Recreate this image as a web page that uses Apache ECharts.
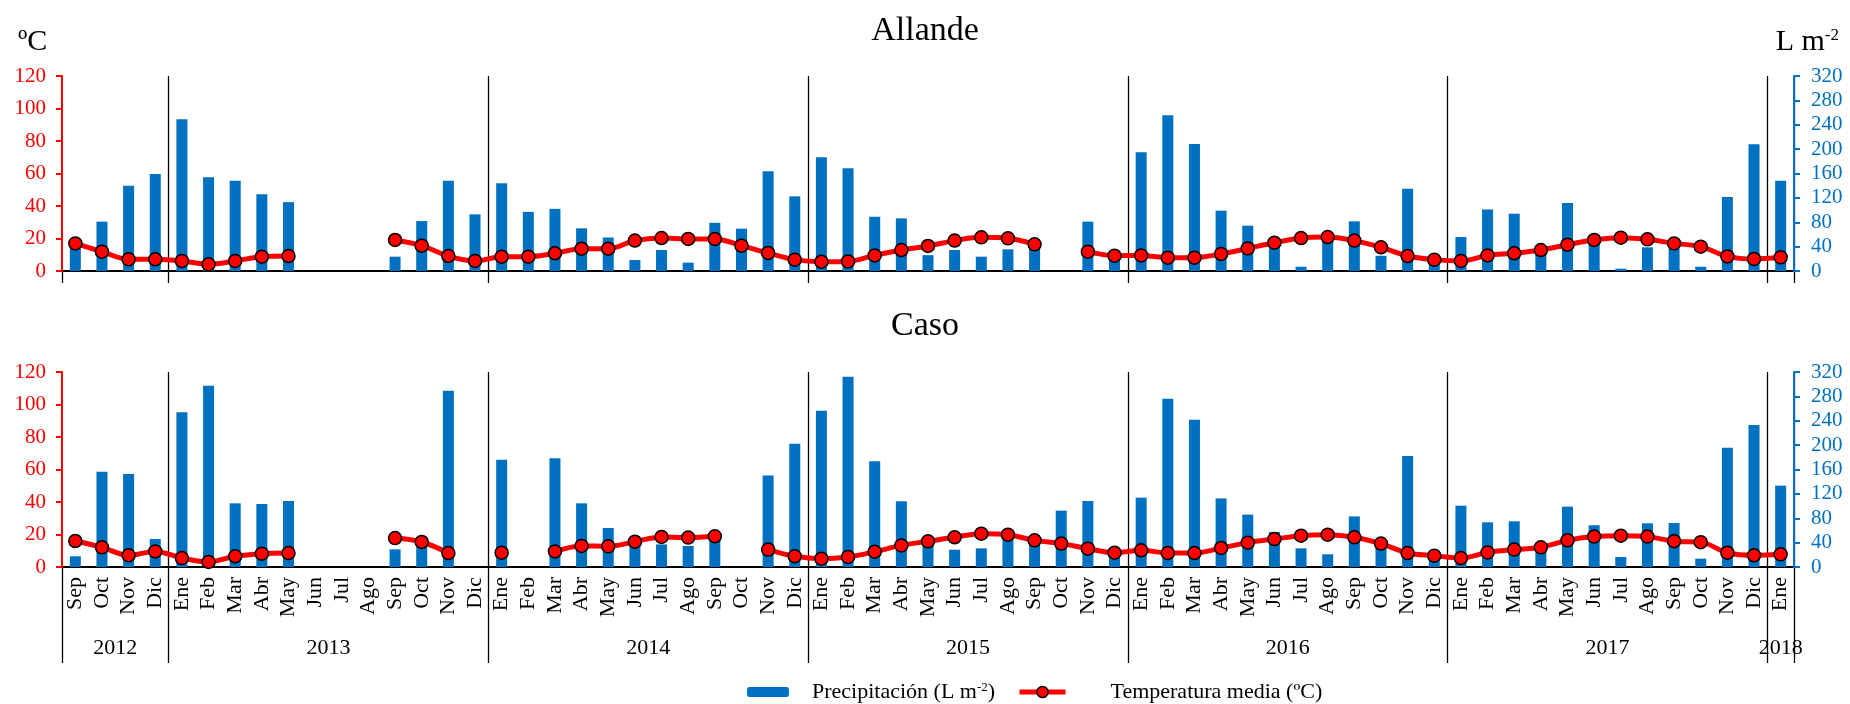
<!DOCTYPE html>
<html>
<head>
<meta charset="utf-8">
<script src="https://cdn.jsdelivr.net/npm/echarts@6/dist/echarts.min.js"></script>
<style>
  html, body { margin: 0; padding: 0; background: #fff; }
  #chart { width: 1850px; height: 704px; }
</style>
</head>
<body>
<div id="chart"></div>
<script>
// Monthly series, Sep 2012 – Ene 2018
const categories = [
  'Sep','Oct','Nov','Dic',
  'Ene','Feb','Mar','Abr','May','Jun','Jul','Ago','Sep','Oct','Nov','Dic',
  'Ene','Feb','Mar','Abr','May','Jun','Jul','Ago','Sep','Oct','Nov','Dic',
  'Ene','Feb','Mar','Abr','May','Jun','Jul','Ago','Sep','Oct','Nov','Dic',
  'Ene','Feb','Mar','Abr','May','Jun','Jul','Ago','Sep','Oct','Nov','Dic',
  'Ene','Feb','Mar','Abr','May','Jun','Jul','Ago','Sep','Oct','Nov','Dic',
  'Ene'
];
const yearLabels = ['2012', '2013', '2014', '2015', '2016', '2017', '2018'];
const tempTicks = [0, 20, 40, 60, 80, 100, 120];
const precipTicks = [0, 40, 80, 120, 160, 200, 240, 280, 320];

// Allande
const allandeTemp = [
  17.0, 11.9, 7.2, 7.2,
  6.2, 4.1, 6.2, 8.8, 9.2, null, null, null, 19.1, 15.6, 9.2, 6.2,
  8.8, 8.8, 10.9, 13.7, 13.7, 18.7, 20.3, 19.7, 19.7, 15.6, 11.1, 7.0,
  5.7, 5.9, 9.6, 12.9, 15.4, 18.7, 20.7, 20.1, 16.4, null, 11.9, 9.4,
  9.6, 8.2, 8.2, 10.5, 13.9, 17.4, 20.3, 20.9, 18.7, 14.6, 9.2, 7.0,
  6.2, 9.6, 10.9, 12.9, 16.2, 19.1, 20.5, 19.5, 17.0, 15.0, 9.0, 7.4,
  8.4
];
const allandePrecip = [
  45, 81, 140, 159,
  249, 154, 148, 126, 113, null, null, null, 23.5, 82, 148, 93,
  144, 97, 102, 70, 55, 18, 34.5, 13.7, 79, 69.5, 163.6, 122.5,
  186.5, 168.5, 89, 86.4, 26, 34.5, 23.5, 35.6, 45, null, 81, 22,
  194.7, 255.5, 208.4, 99, 74.4, 42, 7, 52, 81.5, 25, 135, 20,
  55.8, 101, 94, 35, 111.6, 50, 3.8, 38.8, 37, 7, 121.4, 207.9,
  148
];

// Caso
const casoTemp = [
  16.0, 12.1, 7.2, 9.6,
  5.5, 3.1, 6.6, 8.2, 8.6, null, null, null, 17.8, 15.4, 8.6, null,
  8.8, null, 9.6, 13.0, 12.7, 15.6, 18.5, 18.1, 18.9, null, 10.7, 6.6,
  5.1, 6.2, 9.4, 13.3, 15.8, 18.3, 20.5, 19.9, 16.4, 14.4, 11.3, 8.8,
  10.3, 8.6, 8.6, 11.7, 15.0, 17.2, 19.3, 19.9, 18.3, 14.4, 8.6, 7.0,
  5.5, 9.0, 10.7, 12.1, 16.4, 18.7, 19.3, 18.7, 15.9, 15.3, 8.8, 7.2,
  7.8
];
const casoPrecip = [
  17.5, 156.5, 152.6, 46,
  253.8, 297.6, 104.5, 103.4, 108.3, null, null, null, 29, 42, 289.4, null,
  176, null, 178.5, 104.5, 64, 40, 37, 34.5, 45, null, 150, 202.4,
  256.6, 312.4, 173.4, 107.8, 35, 28.4, 30.6, 53, 45, 92.5, 108.3, 25,
  113.8, 276, 241.8, 112.5, 85.9, 57.4, 30.6, 20.8, 83, 40, 182, 20,
  100.6, 73.3, 75, 35, 99, 68.5, 16.4, 71.7, 72.2, 13.7, 195.8, 233,
  133.5
];

const PRECIP = 'Precipitación (L m-2)';
const TEMP = 'Temperatura media (ºC)';
const FONT = "'Liberation Serif', 'Times New Roman', serif";
const RED = '#FF0000';
const BLUE = '#0070C0';

// A year starts at the first month shown and at every January
const isYearStart = (i) => i === 0 || categories[i] === 'Ene';

// Year captions sit on a half-month grid, centred on each year's span
const yearStarts = categories.map((c, i) => (isYearStart(i) ? i : -1)).filter((i) => i >= 0);
const halfMonthSlots = new Array(categories.length * 2 + 1).fill('');
yearStarts.forEach((s, k) => {
  const e = k + 1 < yearStarts.length ? yearStarts[k + 1] : categories.length;
  halfMonthSlots[s + e] = yearLabels[k];
});

const GRID_LEFT = 62, GRID_RIGHT = 56, PLOT_H = 195;
const grids = [
  { left: GRID_LEFT, right: GRID_RIGHT, top: 76, height: PLOT_H },
  { left: GRID_LEFT, right: GRID_RIGHT, top: 372, height: PLOT_H }
];

function monthAxis(gridIndex, showLabels, tickLen) {
  return {
    type: 'category',
    gridIndex: gridIndex,
    data: categories,
    boundaryGap: true,
    axisLine: { show: true, lineStyle: { color: '#000', width: 2 } },
    axisTick: { show: true, interval: isYearStart, length: tickLen, lineStyle: { color: '#000', width: 1.3 } },
    splitLine: { show: true, interval: (i) => i !== 0 && isYearStart(i), lineStyle: { color: '#000', width: 1.3 } },
    axisLabel: {
      show: showLabels, interval: 0, rotate: 90, margin: 10,
      fontFamily: FONT, fontSize: 22, color: '#000'
    }
  };
}

function valueAxis(gridIndex, side, max, interval, color) {
  return {
    type: 'value',
    gridIndex: gridIndex,
    position: side,
    min: 0, max: max, interval: interval,
    z: 3,
    axisLine: { show: true, lineStyle: { color: color, width: 2 } },
    axisTick: { show: true, length: 6, lineStyle: { color: color, width: 2 } },
    splitLine: { show: false },
    axisLabel: {
      margin: side === 'left' ? 16 : 17,
      fontFamily: FONT, fontSize: 21, color: color,
      formatter: (v) => String(v)
    }
  };
}

function barSeries(xi, yi, data) {
  return {
    name: PRECIP, type: 'bar', xAxisIndex: xi, yAxisIndex: yi,
    data: data, barWidth: 11,
    itemStyle: { color: BLUE }
  };
}

function lineSeries(xi, yi, data) {
  return {
    name: TEMP, type: 'line', xAxisIndex: xi, yAxisIndex: yi,
    data: data, smooth: 0.35, connectNulls: false,
    symbol: 'circle', symbolSize: 13, showAllSymbol: true,
    lineStyle: { color: RED, width: 5 },
    itemStyle: { color: RED, borderColor: '#000', borderWidth: 1.5 },
    z: 4
  };
}

const supStyle = { fontFamily: FONT, fontSize: 13, color: '#000', verticalAlign: 'top' };

const option = {
  animation: false,
  backgroundColor: '#fff',
  textStyle: { fontFamily: FONT },
  title: [
    { text: 'Allande', left: 'center', top: 9, textStyle: { fontFamily: FONT, fontSize: 34, fontWeight: 'normal', color: '#000' } },
    { text: 'Caso', left: 'center', top: 304, textStyle: { fontFamily: FONT, fontSize: 34, fontWeight: 'normal', color: '#000' } },
    { text: 'ºC', left: 13, top: 22, textStyle: { fontFamily: FONT, fontSize: 30, fontWeight: 'normal', color: '#000' } },
    {
      text: 'L m{sup|-2}', right: 6, top: 22,
      textStyle: {
        fontFamily: FONT, fontSize: 30, fontWeight: 'normal', color: '#000',
        rich: { sup: { fontFamily: FONT, fontSize: 17, color: '#000', verticalAlign: 'top' } }
      }
    }
  ],
  legend: [
    {
      data: [PRECIP], left: 742, top: 676,
      itemWidth: 42, itemHeight: 10, itemGap: 0,
      formatter: () => '{gap|}Precipitación (L m{sup|-2})',
      textStyle: {
        fontFamily: FONT, fontSize: 22, color: '#000',
        rich: { gap: { width: 18 }, sup: supStyle }
      }
    },
    {
      data: [TEMP], left: 1012, top: 676,
      itemWidth: 46, itemHeight: 14, itemGap: 0,
      lineStyle: { color: RED, width: 5 },
      itemStyle: { color: RED, borderColor: '#000', borderWidth: 1.5 },
      formatter: (n) => '{gap|}' + n,
      textStyle: {
        fontFamily: FONT, fontSize: 22, color: '#000',
        rich: { gap: { width: 40 } }
      }
    }
  ],
  grid: grids,
  xAxis: [
    monthAxis(0, false, 12),
    monthAxis(1, true, 96),
    {
      type: 'category', gridIndex: 1, data: halfMonthSlots, boundaryGap: false,
      position: 'bottom',
      axisLine: { show: false }, axisTick: { show: false }, splitLine: { show: false },
      axisLabel: { interval: 0, margin: 70, fontFamily: FONT, fontSize: 22, color: '#000' }
    }
  ],
  yAxis: [
    valueAxis(0, 'left', tempTicks[tempTicks.length - 1], tempTicks[1] - tempTicks[0], RED),
    valueAxis(0, 'right', precipTicks[precipTicks.length - 1], precipTicks[1] - precipTicks[0], BLUE),
    valueAxis(1, 'left', tempTicks[tempTicks.length - 1], tempTicks[1] - tempTicks[0], RED),
    valueAxis(1, 'right', precipTicks[precipTicks.length - 1], precipTicks[1] - precipTicks[0], BLUE)
  ],
  series: [
    barSeries(0, 1, allandePrecip),
    lineSeries(0, 0, allandeTemp),
    barSeries(1, 3, casoPrecip),
    lineSeries(1, 2, casoTemp)
  ]
};

const chart = echarts.init(document.getElementById('chart'), null, { renderer: 'canvas' });
chart.setOption(option);
</script>
</body>
</html>
